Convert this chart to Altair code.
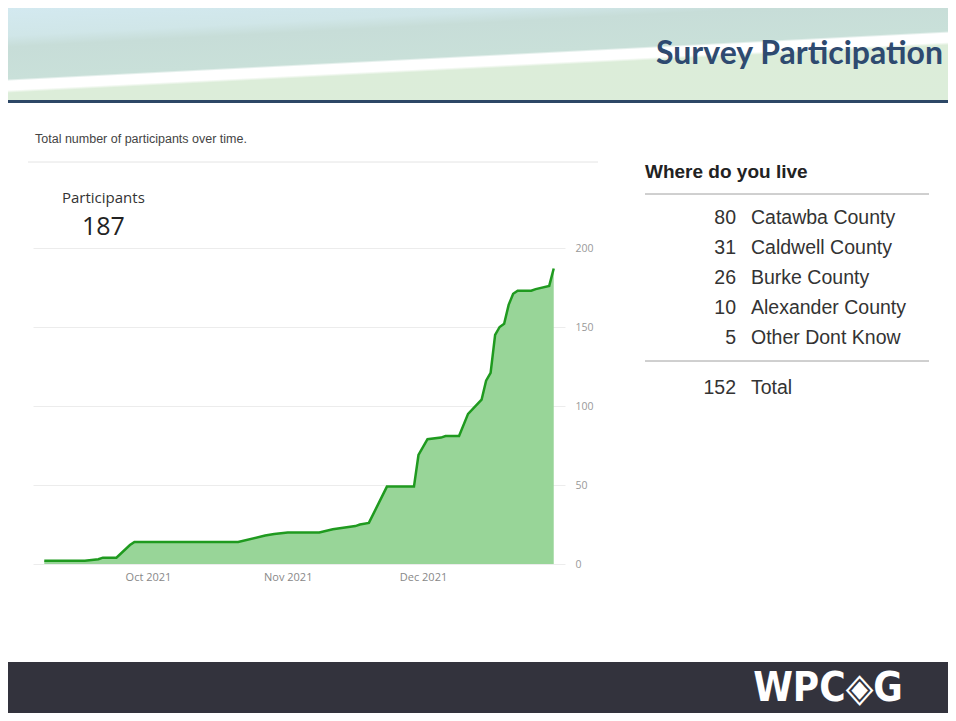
import altair as alt
import pandas as pd

# ---- data ----
dates = ["2021-09-08", "2021-09-17", "2021-09-20", "2021-09-21", "2021-09-24",
         "2021-09-27", "2021-09-28", "2021-10-06", "2021-10-21", "2021-10-27",
         "2021-10-29", "2021-11-01", "2021-11-08", "2021-11-11", "2021-11-16",
         "2021-11-17", "2021-11-19", "2021-11-23", "2021-11-29", "2021-11-30",
         "2021-12-02", "2021-12-05", "2021-12-06", "2021-12-09", "2021-12-11",
         "2021-12-14", "2021-12-15", "2021-12-16", "2021-12-17", "2021-12-18",
         "2021-12-19", "2021-12-20", "2021-12-21", "2021-12-22", "2021-12-25",
         "2021-12-26", "2021-12-29", "2021-12-30"]
participants = [2, 2, 3, 4, 4,
                12, 14, 14, 14, 18,
                19, 20, 20, 22, 24,
                25, 26, 49, 49, 69,
                79, 80, 81, 81, 95,
                104, 116, 121, 145, 150,
                152, 164, 171, 173, 173,
                174, 176, 187]
y_ticks = [0, 50, 100, 150, 200]

counties = ["Catawba County", "Caldwell County", "Burke County",
            "Alexander County", "Other Dont Know"]
counts = [80, 31, 26, 10, 5]
total_label = "Total"
total_count = 152
latest_total = 187

ts = pd.DataFrame({"date": [d + "T00:00:00" for d in dates], "count": participants})
table = pd.DataFrame({"county": counties, "n": counts})
one = pd.DataFrame({"k": [0]})

W, H = 532, 316
PAD = {"left": 25, "top": 240, "right": 940 - 25 - W, "bottom": 705 - 240 - H}

def px(x):  # page x -> plot coordinate
    return x - 33

def py(y):  # page y -> plot coordinate
    return y - 248

base = alt.Chart(one)

# ---- slide decoration ----
header_grad = alt.Gradient(
    gradient="linear",
    stops=[
        alt.GradientStop(offset=0.0, color="#d3e9f0"),
        alt.GradientStop(offset=0.20, color="#d0e6e8"),
        alt.GradientStop(offset=0.28, color="#c7ddd8"),
        alt.GradientStop(offset=0.51, color="#c9e0d9"),
        alt.GradientStop(offset=0.525, color="#ffffff"),
        alt.GradientStop(offset=0.59, color="#ffffff"),
        alt.GradientStop(offset=0.61, color="#dcedd9"),
        alt.GradientStop(offset=1.0, color="#dcedda"),
    ],
    x1=0, y1=0, x2=0.62, y2=1.19,
)
header = base.mark_rect(color=header_grad).encode(
    x=alt.value(px(8)), x2=alt.value(px(948)), y=alt.value(py(8)), y2=alt.value(py(100)))
navy = base.mark_rect(color="#2d4766").encode(
    x=alt.value(px(8)), x2=alt.value(px(948)), y=alt.value(py(100)), y2=alt.value(py(103)))
footer = base.mark_rect(color="#33333d").encode(
    x=alt.value(px(8)), x2=alt.value(px(948)), y=alt.value(py(662)), y2=alt.value(py(713)))
title = base.mark_text(text="Survey Participation", font="Lato", fontWeight="bold",
                       fontSize=32, color="#2e4a70", align="right", baseline="alphabetic").encode(
    x=alt.value(px(943)), y=alt.value(py(64)))
logo = base.mark_text(text="WPC◈G", font="DejaVu Sans Condensed", fontWeight="bold",
                      fontSize=40, color="#ffffff", align="center", baseline="middle").encode(
    x=alt.value(px(828)), y=alt.value(py(689)))

# ---- left panel ----
subtitle = base.mark_text(text="Total number of participants over time.", font="Liberation Sans",
                          fontSize=12.5, color="#444444", align="left", baseline="alphabetic").encode(
    x=alt.value(px(35)), y=alt.value(py(143)))
sep = base.mark_rule(color="#e4e4e4", strokeWidth=1).encode(
    x=alt.value(px(28)), x2=alt.value(px(598)), y=alt.value(py(162)))
plabel = base.mark_text(text="Participants", font="Open Sans", fontSize=15, color="#333333",
                        align="left", baseline="alphabetic").encode(
    x=alt.value(px(62)), y=alt.value(py(203)))
pnum = base.mark_text(text=str(latest_total), font="Open Sans", fontSize=25, color="#222222",
                      align="left", baseline="alphabetic").encode(
    x=alt.value(px(82)), y=alt.value(py(235)))

xscale = alt.Scale(domain=[alt.DateTime(year=2021, month=9, date=5, hours=12),
                           alt.DateTime(year=2022, month=1, date=1, hours=12)])
yscale = alt.Scale(domain=[0, 200])
xaxis = alt.Axis(values=[alt.DateTime(year=2021, month=m, date=1) for m in (10, 11, 12)],
                 format="%b %Y", title=None, ticks=False, domain=False, grid=False,
                 labelColor="#888888", labelFont="Open Sans", labelFontSize=11, labelPadding=7)
yaxis = alt.Axis(values=y_ticks, orient="right", title=None, ticks=False, domain=False,
                 grid=True, gridColor="#ececec", labelColor="#999999", labelFont="Open Sans",
                 labelFontSize=10.5, labelPadding=10)

area = alt.Chart(ts).mark_area(color="#98d598", opacity=1).encode(
    x=alt.X("date:T", scale=xscale, axis=xaxis),
    y=alt.Y("count:Q", scale=yscale, axis=yaxis))
line = alt.Chart(ts).mark_line(color="#1f9a1f", strokeWidth=2.5).encode(
    x=alt.X("date:T", scale=xscale),
    y=alt.Y("count:Q", scale=yscale, axis=None))

# ---- right table ----
ttitle = base.mark_text(text="Where do you live", font="Liberation Sans", fontWeight="bold",
                        fontSize=19, color="#222222", align="left", baseline="alphabetic").encode(
    x=alt.value(px(645)), y=alt.value(py(178)))
rule1 = base.mark_rule(color="#a0a0a0", strokeWidth=1).encode(
    x=alt.value(px(645)), x2=alt.value(px(929)), y=alt.value(py(194)))
rule2 = base.mark_rule(color="#a0a0a0", strokeWidth=1).encode(
    x=alt.value(px(645)), x2=alt.value(px(929)), y=alt.value(py(361)))
rowscale = alt.Scale(type="point", domain=counties, range=[py(218), py(338)], padding=0)
nums = alt.Chart(table).mark_text(font="Liberation Sans", fontSize=19.5, color="#333333",
                                  align="right", baseline="middle").encode(
    x=alt.value(px(736)),
    y=alt.Y("county:N", scale=rowscale, axis=None),
    text=alt.Text("n:Q"))
names = alt.Chart(table).mark_text(font="Liberation Sans", fontSize=19.5, color="#333333",
                                   align="left", baseline="middle").encode(
    x=alt.value(px(751)),
    y=alt.Y("county:N", scale=rowscale, axis=None),
    text=alt.Text("county:N"))
tnum = base.mark_text(text=str(total_count), font="Liberation Sans", fontSize=19.5, color="#333333",
                      align="right", baseline="middle").encode(
    x=alt.value(px(736)), y=alt.value(py(388)))
tname = base.mark_text(text=total_label, font="Liberation Sans", fontSize=19.5, color="#333333",
                       align="left", baseline="middle").encode(
    x=alt.value(px(751)), y=alt.value(py(388)))

chart = alt.layer(
    header, navy, footer, title, logo,
    subtitle, sep, plabel, pnum,
    area, line,
    ttitle, rule1, nums, names, rule2, tnum, tname,
).resolve_scale(y="independent").properties(
    width=W, height=H,
    autosize=alt.AutoSizeParams(type="none"),
    padding=PAD,
    background="#ffffff",
).configure_view(stroke=None)

chart.save("out.html", embed_options={"renderer": "svg", "actions": False})
